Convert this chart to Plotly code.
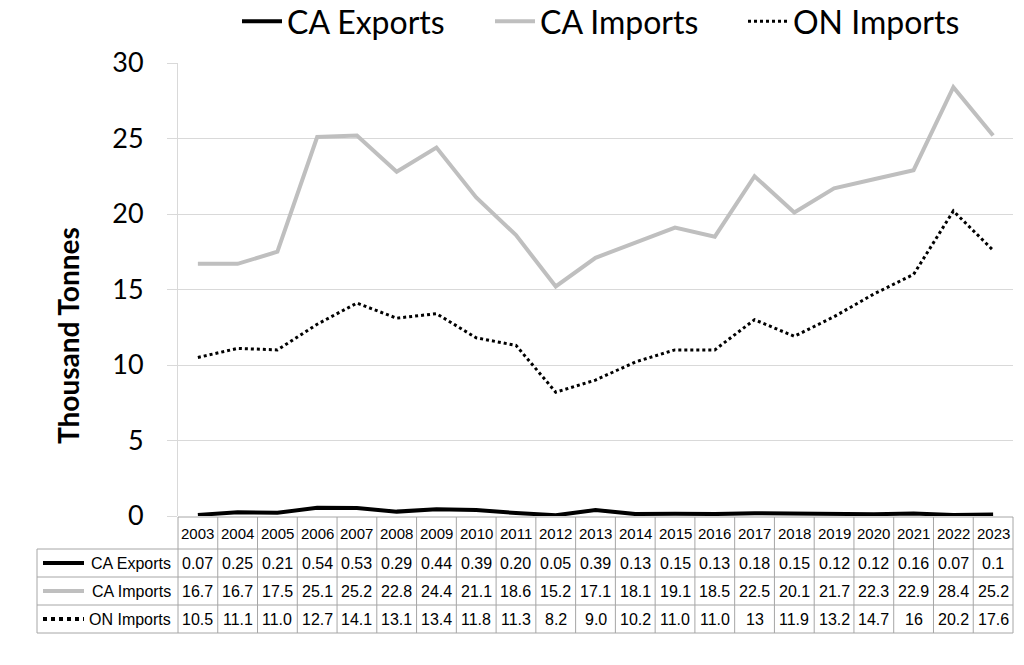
import plotly.graph_objects as go

# ---------------- data ----------------
years = [2003, 2004, 2005, 2006, 2007, 2008, 2009, 2010, 2011, 2012, 2013,
         2014, 2015, 2016, 2017, 2018, 2019, 2020, 2021, 2022, 2023]
ca_exports = [0.07, 0.25, 0.21, 0.54, 0.53, 0.29, 0.44, 0.39, 0.20, 0.05, 0.39,
              0.13, 0.15, 0.13, 0.18, 0.15, 0.12, 0.12, 0.16, 0.07, 0.1]
ca_imports = [16.7, 16.7, 17.5, 25.1, 25.2, 22.8, 24.4, 21.1, 18.6, 15.2, 17.1,
              18.1, 19.1, 18.5, 22.5, 20.1, 21.7, 22.3, 22.9, 28.4, 25.2]
on_imports = [10.5, 11.1, 11.0, 12.7, 14.1, 13.1, 13.4, 11.8, 11.3, 8.2, 9.0,
              10.2, 11.0, 11.0, 13, 11.9, 13.2, 14.7, 16, 20.2, 17.6]
# table cell texts as printed in the data table
ca_exports_txt = ["0.07", "0.25", "0.21", "0.54", "0.53", "0.29", "0.44", "0.39", "0.20", "0.05", "0.39",
                  "0.13", "0.15", "0.13", "0.18", "0.15", "0.12", "0.12", "0.16", "0.07", "0.1"]
ca_imports_txt = ["16.7", "16.7", "17.5", "25.1", "25.2", "22.8", "24.4", "21.1", "18.6", "15.2", "17.1",
                  "18.1", "19.1", "18.5", "22.5", "20.1", "21.7", "22.3", "22.9", "28.4", "25.2"]
on_imports_txt = ["10.5", "11.1", "11.0", "12.7", "14.1", "13.1", "13.4", "11.8", "11.3", "8.2", "9.0",
                  "10.2", "11.0", "11.0", "13", "11.9", "13.2", "14.7", "16", "20.2", "17.6"]
series_names = ["CA Exports", "CA Imports", "ON Imports"]
y_ticks = [0, 5, 10, 15, 20, 25, 30]

# ---------------- layout constants (pixels) ----------------
W, H = 1024, 665
L, R, T, B = 178, 1013, 63, 516   # plot area edges in px
pw, ph = R - L, B - T


def px_x(px):
    return (px - L) / pw


def px_y(py):
    return (B - py) / ph


GRID = "#D9D9D9"
BORDER = "#A6A6A6"
TABLE_FONT = dict(family="Liberation Sans, Arial, sans-serif", size=16, color="black")
HEADER_FONT = dict(family="Liberation Sans, Arial, sans-serif", size=15, color="black")

styles = [
    dict(color="black", width=4, dash="solid"),
    dict(color="#BFBFBF", width=4, dash="solid"),
    dict(color="black", width=3, dash="dot"),
]
series = [ca_exports, ca_imports, on_imports]
texts = [ca_exports_txt, ca_imports_txt, on_imports_txt]

fig = go.Figure()
for name, vals, st in zip(series_names, series, styles):
    fig.add_trace(go.Scatter(x=years, y=vals, mode="lines", name=name,
                             line=st, hoverinfo="x+y+name"))

shapes = []
annotations = []

# table geometry
header_top, header_bot = 517, 549
row_h = 28
row_tops = [header_bot + i * row_h for i in range(3)]
table_bot = header_bot + 3 * row_h
table_left = 37

x0_year = years[0] - 0.5
x1_year = years[-1] + 0.5
span = x1_year - x0_year


def year_to_paper(v):
    return (v - x0_year) / span


line_kw = dict(color=BORDER, width=1)
# horizontal borders
shapes.append(dict(type="line", xref="paper", yref="paper", x0=0, x1=1,
                   y0=px_y(header_top), y1=px_y(header_top), line=line_kw))
for yy in [header_bot] + [t + row_h for t in row_tops]:
    shapes.append(dict(type="line", xref="paper", yref="paper",
                       x0=px_x(table_left), x1=1, y0=px_y(yy), y1=px_y(yy), line=line_kw))
# vertical borders
for i in range(len(years) + 1):
    xv = year_to_paper(x0_year + i)
    shapes.append(dict(type="line", xref="paper", yref="paper", x0=xv, x1=xv,
                       y0=px_y(header_top), y1=px_y(table_bot), line=line_kw))
shapes.append(dict(type="line", xref="paper", yref="paper",
                   x0=px_x(table_left), x1=px_x(table_left),
                   y0=px_y(header_bot), y1=px_y(table_bot), line=line_kw))

# header years
for yr in years:
    annotations.append(dict(x=yr, y=px_y((header_top + header_bot) / 2), xref="x", yref="paper",
                            text=str(yr), showarrow=False, font=HEADER_FONT,
                            xanchor="center", yanchor="middle"))
# rows
for r, (name, txts, st) in enumerate(zip(series_names, texts, styles)):
    yc = row_tops[r] + row_h / 2
    for yr, t in zip(years, txts):
        annotations.append(dict(x=yr, y=px_y(yc), xref="x", yref="paper", text=t,
                                showarrow=False, font=TABLE_FONT,
                                xanchor="center", yanchor="middle"))
    annotations.append(dict(x=px_x(173), y=px_y(yc), xref="paper", yref="paper", text=name,
                            showarrow=False, font=TABLE_FONT, xanchor="right", yanchor="middle"))
    key_line = dict(color=st["color"], width=(4 if st["dash"] == "dot" else st["width"]),
                    dash=st["dash"])
    shapes.append(dict(type="line", xref="paper", yref="paper", x0=px_x(43), x1=px_x(84),
                       y0=px_y(yc), y1=px_y(yc), line=key_line))

# y-axis title
annotations.append(dict(x=px_x(68), y=px_y(335), xref="paper", yref="paper",
                        text="<b>Thousand Tonnes</b>", showarrow=False, textangle=-90,
                        font=dict(family="Lato, sans-serif", size=28, color="black"),
                        xanchor="center", yanchor="middle"))

fig.update_layout(
    width=W, height=H,
    margin=dict(l=L, r=W - R, t=T, b=H - B, pad=0, autoexpand=False),
    paper_bgcolor="white", plot_bgcolor="white",
    showlegend=True,
    legend=dict(orientation="h", x=px_x(237), y=px_y(-6), xanchor="left", yanchor="top",
                font=dict(family="Lato, sans-serif", size=32, color="black"),
                entrywidth=198, entrywidthmode="pixels", itemwidth=40,
                bgcolor="rgba(0,0,0,0)"),
    xaxis=dict(range=[x0_year, x1_year], showticklabels=False, showgrid=False,
               zeroline=False, showline=False, ticks="", fixedrange=True),
    yaxis=dict(range=[0, 30], tickvals=y_ticks, showgrid=True, gridcolor=GRID, gridwidth=1,
               zeroline=False, showline=True, linecolor=GRID, linewidth=1,
               ticks="outside", ticklen=10, tickcolor=GRID, tickwidth=1,
               ticklabelstandoff=18,
               tickfont=dict(family="Lato, sans-serif", size=27, color="black"),
               fixedrange=True),
    shapes=shapes,
    annotations=annotations,
)

fig.write_html(
    "out.html",
    config={"displayModeBar": False},
    post_script="document.body.style.margin='0px';document.body.style.overflow='hidden';",
)
